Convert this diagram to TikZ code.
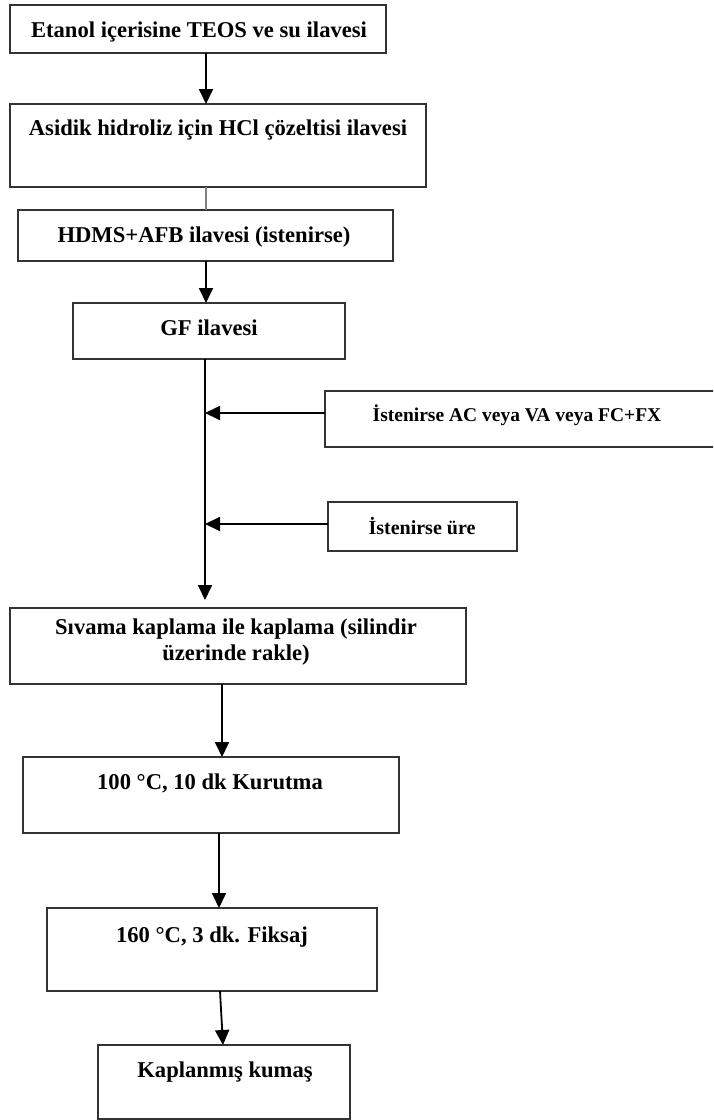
\documentclass[tikz,border=0pt]{standalone}
\usepackage{fontspec}
\setmainfont{Liberation Serif}
\usetikzlibrary{arrows.meta}
\tikzset{
  box/.style={draw=black!80, line width=1.5pt, rectangle},
  txt/.style={font=\bfseries\fontsize{22.6}{25.5}\selectfont, anchor=base, inner sep=0pt, align=center},
  midtxt/.style={font=\bfseries\fontsize{20}{24}\selectfont, anchor=base, inner sep=0pt},
  smalltxt/.style={font=\bfseries\fontsize{19.5}{23}\selectfont, anchor=base, inner sep=0pt},
  arr/.style={line width=1.8pt, -{Triangle[width=14pt,length=15pt]}},
  thin/.style={line width=1.3pt, draw=black!50}
}
\begin{document}
\begin{tikzpicture}[x=1pt,y=-1pt]
\clip (0,0) rectangle (713,1120);
\fill[white] (0,0) rectangle (713,1120);
% boxes
\draw[box] (10,5) rectangle (386,53);
\coordinate (b1s) at (206,53);
\draw[box] (10,104) rectangle (426,187);
\coordinate (b2n) at (206,104);
\coordinate (b2s) at (206,187);
\draw[box] (18,210) rectangle (393,261);
\coordinate (b3n) at (206,210);
\coordinate (b3s) at (206,261);
\draw[box] (73,303) rectangle (345,359);
\coordinate (b4n) at (206,303);
\coordinate (b4s) at (205,359);
\draw[box] (325,391) rectangle (740,447);
\coordinate (b5w) at (325,413);
\draw[box] (328,502) rectangle (517,551);
\coordinate (b6w) at (328,524);
\draw[box] (10,608) rectangle (466,684);
\coordinate (b7s) at (222,684);
\coordinate (b7n) at (222,608);
\draw[box] (23,757) rectangle (399,833);
\coordinate (b8n) at (222,757);
\coordinate (b8s) at (219,833);
\draw[box] (47,908) rectangle (377,991);
\coordinate (b9n) at (219,908);
\coordinate (b9s) at (220,991);
\draw[box] (98,1045) rectangle (350,1119);
\coordinate (b10n) at (223,1045);
% texts
\node[txt] (t1) at (199,37) {Etanol içerisine TEOS ve su ilavesi};
\node[txt] (t2) at (218,135) {Asidik hidroliz için HCl çözeltisi ilavesi};
\node[txt] (t3) at (204,242) {HDMS+AFB ilavesi (istenirse)};
\node[txt] (t4) at (209,335) {GF ilavesi};
\node[smalltxt] (t5) at (517,421) {İstenirse AC veya VA veya FC+FX};
\node[midtxt] (t6) at (422,534) {İstenirse üre};
\node[txt, anchor=north] (t7) at (236,619) {Sıvama kaplama ile kaplama (silindir\\üzerinde rakle)};
\node[txt] (t8) at (210,789) {100 °C, 10 dk Kurutma};
\node[txt] (t9) at (212,942) {160 °C, 3 dk. Fiksaj};
\node[txt] (t10) at (225,1077) {Kaplanmış kumaş};
% junctions
\coordinate (j1) at (205,413);
\coordinate (j2) at (205,524);
\coordinate (jend) at (205,600);
% connectors
\draw[arr] (b1s) -- (b2n);
\draw[thin] (b2s) -- (b3n);
\draw[arr] (b3s) -- (b4n);
\draw[arr] (b4s) -- (jend);
\draw[arr] (b5w) -- (j1);
\draw[arr] (b6w) -- (j2);
\draw[arr] (b7s) -- (b8n);
\draw[arr] (b8s) -- (b9n);
\draw[arr] (b9s) -- (b10n);
\end{tikzpicture}
\end{document}
